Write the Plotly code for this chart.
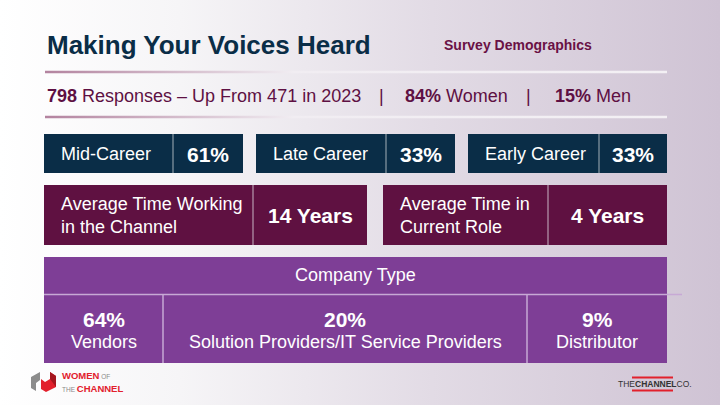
import plotly.graph_objects as go

# survey figures
responses_2024 = 798
responses_2023 = 471
women_pct = 84
men_pct = 15

career_labels = ["Mid-Career", "Late Career", "Early Career"]
career_pct = [61, 33, 33]

tenure_labels = ["Average Time Working<br>in the Channel", "Average Time in<br>Current Role"]
tenure_years = [14, 4]

company_types = ["Vendors", "Solution Providers/IT Service Providers", "Distributor"]
company_pct = [64, 20, 9]

NAVY = "#0a2d47"
MAROON = "#5f1141"
PURPLE = "#7e3e96"
TXT_MAROON = "#5e1043"
FONT = "Liberation Sans, Arial, sans-serif"

fig = go.Figure()

# slide background: white on the left fading to a lavender grey
fig.add_trace(go.Scatter(
    x=[0, 720, 720, 0, 0], y=[0, 0, 405, 405, 0], mode="lines",
    fill="toself", line=dict(width=0), hoverinfo="skip", showlegend=False,
    fillgradient=dict(type="horizontal",
                      colorscale=[[0, "#ffffff"], [0.25, "#f6f5f7"], [0.6, "#e2dbe5"], [1, "#cfc3d4"]]),
))

# rule lines above / below the responses row
for yl in [72, 117]:
    fig.add_trace(go.Scatter(
        x=[45, 667, 667, 45, 45], y=[yl - 1.2, yl - 1.2, yl + 1.2, yl + 1.2, yl - 1.2],
        mode="lines", fill="toself", line=dict(width=0), hoverinfo="skip", showlegend=False,
        fillgradient=dict(type="horizontal",
                          colorscale=[[0, "#b3839f"], [0.4, "#f1edf2"], [1, "#f3f0f4"]]),
    ))

shapes = []
ann = []


def text(x, y, s, size, color="white", anchor="center", bold=False):
    if bold:
        s = f"<b>{s}</b>"
    ann.append(dict(x=x, y=y, text=s, showarrow=False, xanchor=anchor, yanchor="middle",
                    align=anchor if anchor != "center" else "center",
                    font=dict(family=FONT, size=size, color=color)))


# header
text(45, 45, "Making Your Voices Heard", 26, NAVY, "left", True)
text(442, 45, "Survey Demographics", 14, "#6a1145", "left", True)

text(45, 96, f"<b>{responses_2024}</b> Responses – Up From {responses_2023} in 2023", 18, TXT_MAROON, "left")
text(381, 96, "|", 18, TXT_MAROON)
text(403, 96, f"<b>{women_pct}%</b> Women", 18, TXT_MAROON, "left")
text(528, 96, "|", 18, TXT_MAROON)
text(553, 96, f"<b>{men_pct}%</b> Men", 18, TXT_MAROON, "left")

# career stage boxes
row1 = [(44, 173, 243), (256, 386, 455), (468, 599, 667)]
for (x0, xd, x1), lab, v in zip(row1, career_labels, career_pct):
    shapes.append(dict(type="rect", x0=x0, x1=x1, y0=134, y1=173, fillcolor=NAVY, line=dict(width=0)))
    shapes.append(dict(type="line", x0=xd, x1=xd, y0=134, y1=173, line=dict(color="#8a9aa6", width=1.2)))
    text(x0 + 15, 154, lab, 18, anchor="left")
    text((xd + x1) / 2, 154, f"{v}%", 21, bold=True)

# tenure boxes
row2 = [(44, 253, 367), (383, 548, 667)]
for (x0, xd, x1), lab, v in zip(row2, tenure_labels, tenure_years):
    shapes.append(dict(type="rect", x0=x0, x1=x1, y0=185, y1=245, fillcolor=MAROON, line=dict(width=0)))
    shapes.append(dict(type="line", x0=xd, x1=xd, y0=185, y1=245, line=dict(color="#b79caf", width=1.2)))
    text(x0 + 15, 215, lab, 18, anchor="left")
    text((xd + x1) / 2, 215, f"{v} Years", 21, bold=True)

# company type table
shapes.append(dict(type="rect", x0=44, x1=667, y0=257, y1=363, fillcolor=PURPLE, line=dict(width=0)))
shapes.append(dict(type="line", x0=44, x1=682, y0=294.5, y1=294.5, line=dict(color="#c7a9d5", width=1.5)))
for xd in [163, 527]:
    shapes.append(dict(type="line", x0=xd, x1=xd, y0=294.5, y1=363, line=dict(color="#c7a9d5", width=1.5)))
text(355, 275, "Company Type", 18)
cells = [(44, 163), (163, 527), (527, 667)]
for (c0, c1), lab, v in zip(cells, company_types, company_pct):
    text((c0 + c1) / 2, 319, f"{v}%", 21, bold=True)
    text((c0 + c1) / 2, 342, lab, 18)

# Women of the Channel logo
shapes.append(dict(type="path", path="M 31 377 L 40 372 L 40 380 L 36 383 L 36 391 L 31 388 Z",
                   fillcolor="#8c8c8c", line=dict(width=0)))
shapes.append(dict(type="path", path="M 41 379 L 45 382 L 50 379 L 50 372 L 56 376 L 56 387 L 46 392 L 41 389 Z",
                   fillcolor="#e2202c", line=dict(width=0)))
shapes.append(dict(type="path", path="M 50 379 L 50 372 L 56 376 L 56 387 Z",
                   fillcolor="#a5161e", line=dict(width=0)))
grey = "<span style='font-size:6.5px;color:#8a8a8a'>{}</span>"
text(60, 375.5, "<b>WOMEN</b>" + grey.format(" OF"), 9.5, "#e2202c", "left")
text(60, 388, grey.format("THE ") + "<b>CHANNEL</b>", 9.5, "#e2202c", "left")

# The Channel Co. logo
shapes.append(dict(type="line", x0=632, x1=673, y0=377.5, y1=377.5, line=dict(color="#e2202c", width=2)))
shapes.append(dict(type="line", x0=632, x1=673, y0=390.5, y1=390.5, line=dict(color="#e2202c", width=2)))
text(616, 384, "THE<b>CHANNEL</b>CO.", 8.5, "#333333", "left")

fig.update_layout(
    width=720, height=405,
    margin=dict(l=0, r=0, t=0, b=0),
    paper_bgcolor="white", plot_bgcolor="white",
    xaxis=dict(range=[0, 720], visible=False, fixedrange=True),
    yaxis=dict(range=[405, 0], visible=False, fixedrange=True),
    shapes=shapes, annotations=ann, showlegend=False,
)

# drop the browser's default body margin so the slide sits flush in the window
fig.write_html("out.html", config={"displayModeBar": False},
               post_script="document.body.style.margin='0';document.body.style.overflow='hidden';")
